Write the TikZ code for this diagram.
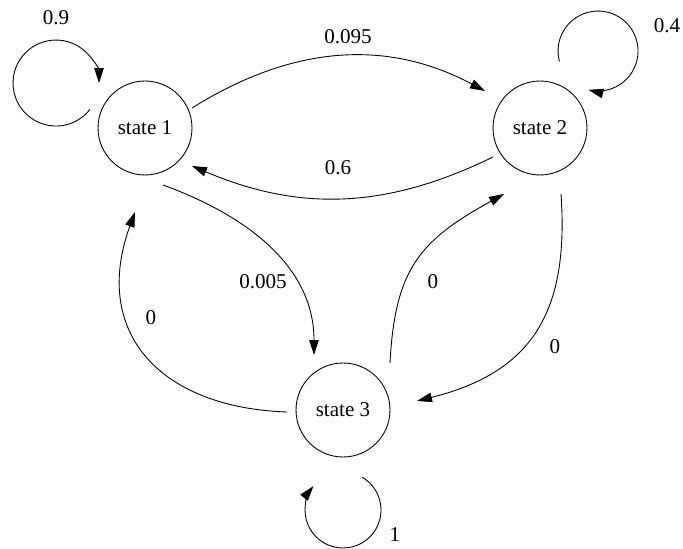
\documentclass[tikz,border=0pt]{standalone}
\usepackage{fontspec}
\setmainfont{Liberation Serif}
\usetikzlibrary{arrows.meta,positioning}

\begin{document}
\begin{tikzpicture}[x=0.02cm, y=0.02cm, line width=0.5pt,
    >={Triangle[length=0.3cm,width=0.19cm]},
    statecirc/.style={draw, circle, minimum size=1.88cm, inner sep=0pt,
                      font=\fontsize{12}{14}\selectfont},
    prob/.style={font=\fontsize{12}{14}\selectfont}]
  \useasboundingbox (0,0) rectangle (683,548);

  \node[statecirc] (st1) at (145,420) {state 1};
  \node[statecirc] (st2) at (540,420) {state 2};
  \node[statecirc] (st3) at (343,138) {state 3};

  % self loops
  \draw[->] ([shift={(-55.1,18.5)}]st1.center) arc[start angle=-38, end angle=-360, radius=0.86cm];
  \draw[->] ([shift={(19.4,66.6)}]st2.center) arc[start angle=195, end angle=-104, radius=0.8cm];
  \draw[->] ([shift={(19,-67.1)}]st3.center) arc[start angle=60, end angle=-219, radius=0.76cm];

  \draw[->] ([shift={(47,20)}]st1.center) to[out=32, in=152] ([shift={(-55,37)}]st2.center);
  \draw[->] ([shift={(-47,-29)}]st2.center) to[out=206, in=-23] ([shift={(47,-38)}]st1.center);
  \draw[->] ([shift={(18,-57)}]st1.center) to[out=-20, in=90] ([shift={(-29,55)}]st3.center);
  \draw[->] ([shift={(-56,-2)}]st3.center) to[out=178, in=250, looseness=1.3] ([shift={(-10,-84)}]st1.center);
  \draw[->] ([shift={(47,47)}]st3.center) to[out=87, in=209, looseness=1.2] ([shift={(-36,-66)}]st2.center);
  \draw[->] ([shift={(21,-66)}]st2.center) to[out=-86, in=14, looseness=1.2] ([shift={(74,9)}]st3.center);

  % transition probabilities
  \node[prob] (p11) at (56,530) {0.9};
  \node[prob] (p12) at (348,511) {0.095};
  \node[prob] (p13) at (263,266) {0.005};
  \node[prob] (p21) at (338,380) {0.6};
  \node[prob] (p22) at (667,522) {0.4};
  \node[prob] (p23) at (555,201) {0};
  \node[prob] (p31) at (151,230) {0};
  \node[prob] (p32) at (433,266) {0};
  \node[prob] (p33) at (395,13) {1};
\end{tikzpicture}
\end{document}
